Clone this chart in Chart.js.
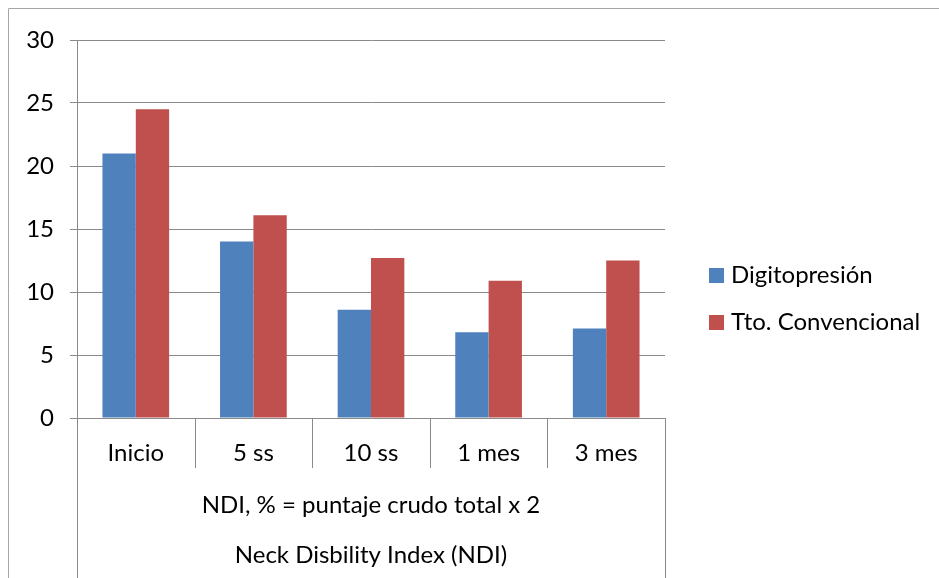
<!DOCTYPE html>
<html>
<head>
<meta charset="utf-8">
<script src="https://cdn.jsdelivr.net/npm/chart.js@4/dist/chart.umd.min.js"></script>
<style>
  html, body { margin: 0; padding: 0; background: #fff; }
  #wrap { width: 939px; height: 578px; position: relative; }
</style>
</head>
<body>
<div id="wrap"><canvas id="c" width="939" height="578"></canvas></div>
<script>
// Neck Disability Index over follow-up
const categories = ['Inicio', '5 ss', '10 ss', '1 mes', '3 mes'];
const digitopresion = [21.0, 14.0, 8.6, 6.8, 7.1];
const convencional = [24.5, 16.1, 12.7, 10.9, 12.5];
const seriesNames = ['Digitopresión', 'Tto. Convencional'];
const yTicks = [0, 5, 10, 15, 20, 25, 30];
const axisRow2 = 'NDI, % = puntaje crudo total x 2';
const axisRow3 = 'Neck Disbility Index (NDI)';

const FONT = 'Lato, "Open Sans", sans-serif';
const FONT_SIZE = 24;
const GRID = '#8a8a8a';
const COLORS = ['#4F81BD', '#C0504D'];

// Draws the frame, the multi-level category axis and the legend
const decorations = {
  id: 'decorations',
  afterDraw(chart) {
    const ctx = chart.ctx;
    const x = chart.scales.x;
    const area = chart.chartArea;
    const H = chart.height;
    ctx.save();
    // outer frame
    ctx.strokeStyle = '#a6a6a6';
    ctx.lineWidth = 1;
    ctx.beginPath();
    ctx.moveTo(8.5, H + 2);
    ctx.lineTo(8.5, 8.5);
    ctx.lineTo(chart.width + 2, 8.5);
    ctx.stroke();

    // category dividers
    ctx.strokeStyle = GRID;
    const n = categories.length;
    const step = (x.getPixelForValue(1) - x.getPixelForValue(0));
    for (let i = 0; i <= n; i++) {
      const px = Math.round(x.getPixelForValue(i) - step / 2) + 0.5;
      const outer = (i === 0 || i === n);
      ctx.beginPath();
      ctx.moveTo(px, area.bottom);
      ctx.lineTo(px, outer ? H + 2 : area.bottom + 50);
      ctx.stroke();
    }

    // second and third label rows
    const cx = (x.getPixelForValue(0) - step / 2 + x.getPixelForValue(n - 1) + step / 2) / 2;
    ctx.fillStyle = '#000';
    ctx.font = FONT_SIZE + 'px ' + FONT;
    ctx.textAlign = 'center';
    ctx.textBaseline = 'middle';
    ctx.fillText(axisRow2, cx, 505);
    ctx.fillText(axisRow3, cx, 555);

    // legend
    ctx.textAlign = 'left';
    const legY = [275, 322];
    seriesNames.forEach((name, i) => {
      ctx.fillStyle = COLORS[i];
      ctx.fillRect(709, legY[i] - 7, 15, 15);
      ctx.fillStyle = '#000';
      ctx.fillText(name, 731, legY[i]);
    });
    ctx.restore();
  }
};

new Chart(document.getElementById('c'), {
  type: 'bar',
  data: {
    labels: categories,
    datasets: [
      { label: seriesNames[0], data: digitopresion, backgroundColor: COLORS[0] },
      { label: seriesNames[1], data: convencional, backgroundColor: COLORS[1] }
    ]
  },
  options: {
    responsive: false,
    animation: false,
    events: [],
    layout: { padding: { top: 40, right: 274, left: 0, bottom: 0 } },
    datasets: { bar: { barPercentage: 1.0, categoryPercentage: 0.567 } },
    plugins: { legend: { display: false }, tooltip: { enabled: false } },
    scales: {
      x: {
        grid: { display: false, drawTicks: false },
        border: { display: false },
        ticks: {
          color: '#000',
          font: { family: FONT, size: FONT_SIZE },
          padding: 21,
          maxRotation: 0
        },
        afterFit(scale) { scale.height = 160; }
      },
      y: {
        min: 0,
        max: 30,
        afterBuildTicks(scale) { scale.ticks = yTicks.map(v => ({ value: v })); },
        grid: { color: GRID, lineWidth: 1, tickLength: 7, drawTicks: true },
        border: { display: true, color: GRID, width: 1 },
        ticks: {
          color: '#000',
          font: { family: FONT, size: FONT_SIZE },
          padding: 16
        },
        afterFit(scale) { scale.width = 77; }
      }
    }
  },
  plugins: [decorations]
});
</script>
</body>
</html>
